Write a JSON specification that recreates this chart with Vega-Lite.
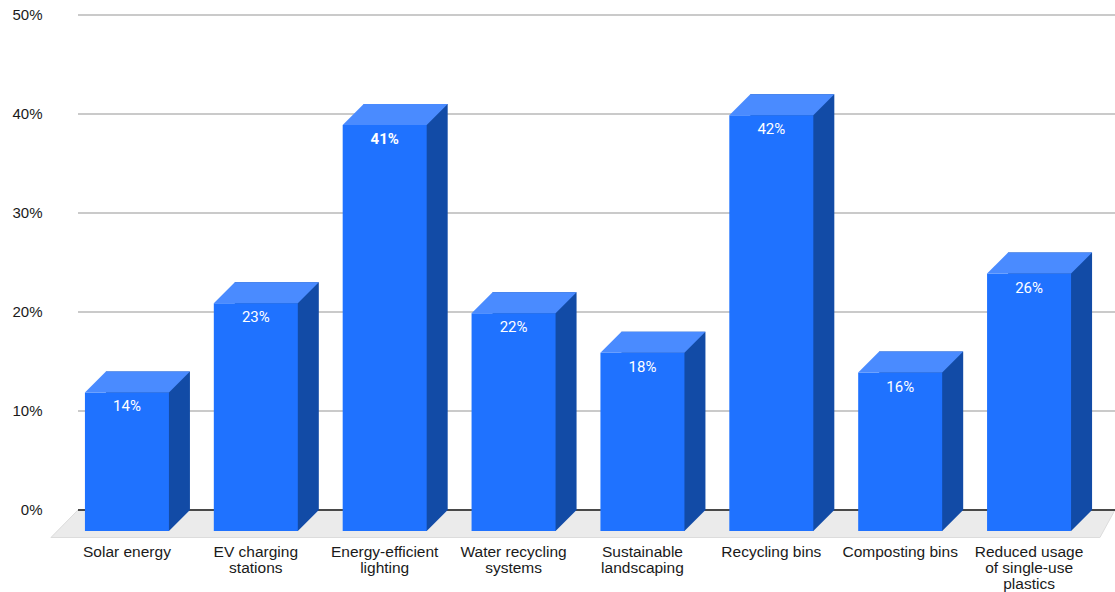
{
  "$schema": "https://vega.github.io/schema/vega-lite/v6.json",
  "width": 1037,
  "height": 495,
  "autosize": "none",
  "padding": {"left": 78, "top": 15, "right": 0, "bottom": 82},
  "background": "#ffffff",
  "view": {"stroke": null},
  "data": {"values": [
    {"category": "Solar energy", "share": 0.14},
    {"category": "EV charging stations", "share": 0.23},
    {"category": "Energy-efficient lighting", "share": 0.41},
    {"category": "Water recycling systems", "share": 0.22},
    {"category": "Sustainable landscaping", "share": 0.18},
    {"category": "Recycling bins", "share": 0.42},
    {"category": "Composting bins", "share": 0.16},
    {"category": "Reduced usage of single-use plastics", "share": 0.26}
  ]},
  "encoding": {
    "x": {
      "field": "category",
      "type": "nominal",
      "sort": null,
      "title": null,
      "scale": {"type": "band", "range": [-15.5, 1015.5], "paddingInner": 0, "paddingOuter": 0},
      "axis": {
        "domain": false,
        "ticks": false,
        "grid": false,
        "labelAngle": 0,
        "labelPadding": 41,
        "labelFont": "Liberation Sans",
        "labelFontSize": 15.5,
        "labelColor": "#1a1a1a",
        "labelLineHeight": 16,
        "labelOverlap": false,
        "labelLimit": 0,
        "labelBaseline": "middle",
        "labelExpr": "{'EV charging stations':['EV charging','stations'],'Energy-efficient lighting':['Energy-efficient','lighting'],'Water recycling systems':['Water recycling','systems'],'Sustainable landscaping':['Sustainable','landscaping'],'Reduced usage of single-use plastics':['Reduced usage','of single-use','plastics']}[datum.label] || datum.label"
      }
    },
    "y": {
      "field": "share",
      "type": "quantitative",
      "title": null,
      "scale": {"domain": [0, 0.5], "nice": false},
      "axis": {
        "values": [0, 0.1, 0.2, 0.3, 0.4, 0.5],
        "format": ".0%",
        "domain": false,
        "ticks": false,
        "grid": false,
        "labelPadding": 36,
        "labelOffset": -1,
        "labelFont": "Liberation Sans",
        "labelFontSize": 15,
        "labelColor": "#1a1a1a"
      }
    }
  },
  "layer": [
    {
      "description": "Horizontal gridlines across the full plot width",
      "data": {"values": [{"gridValue": 0.1}, {"gridValue": 0.2}, {"gridValue": 0.3}, {"gridValue": 0.4}, {"gridValue": 0.5}]},
      "mark": {"type": "rule", "color": "#b9b9b9", "strokeWidth": 1.4},
      "encoding": {"x": null, "y": {"field": "gridValue", "type": "quantitative"}}
    },
    {
      "description": "Floor of the 3D plot, anchored to the first category at zero",
      "transform": [{"filter": "datum.category === 'Solar energy'"}],
      "mark": {"type": "point", "filled": true, "opacity": 1, "fill": "#ebebeb", "stroke": "#dcdcdc", "strokeWidth": 1, "shape": "M-76,27.5L-49,0L988,0L973,27.5Z", "size": 4},
      "encoding": {"y": {"datum": 0}}
    },
    {
      "description": "Zero baseline",
      "mark": {"type": "rule", "color": "#4a4a4a", "strokeWidth": 1.4},
      "encoding": {"x": null, "y": {"datum": 0}}
    },
    {
      "description": "Side face: dark bar pushed back by the extrusion depth",
      "mark": {"type": "bar", "width": 84, "xOffset": 21, "color": "#124ba6"}
    },
    {
      "description": "Lower corner of the side face, tucked under the front face",
      "mark": {"type": "point", "filled": true, "opacity": 1, "fill": "#124ba6", "strokeWidth": 0, "shape": "M38,-1L63,-1L63,0L42,21L38,21Z", "size": 4},
      "encoding": {"y": {"datum": 0}}
    },
    {
      "description": "Front face",
      "mark": {"type": "bar", "width": 84, "yOffset": 21, "color": "#1f72ff"}
    },
    {
      "description": "Top face",
      "mark": {"type": "point", "filled": true, "opacity": 1, "fill": "#4a8bff", "strokeWidth": 0, "shape": "M-42,21L42,21L63,0L-21,0Z", "size": 4}
    },
    {
      "description": "Value labels",
      "transform": [{"filter": "datum.share !== 0.41"}],
      "mark": {"type": "text", "color": "#ffffff", "font": "Roboto", "fontSize": 15, "yOffset": 35, "baseline": "middle"},
      "encoding": {"text": {"field": "share", "type": "quantitative", "format": ".0%"}}
    },
    {
      "description": "Highlighted value label",
      "transform": [{"filter": "datum.share === 0.41"}],
      "mark": {"type": "text", "color": "#ffffff", "font": "Roboto", "fontSize": 15, "fontWeight": "bold", "yOffset": 35, "baseline": "middle"},
      "encoding": {"text": {"field": "share", "type": "quantitative", "format": ".0%"}}
    }
  ]
}
